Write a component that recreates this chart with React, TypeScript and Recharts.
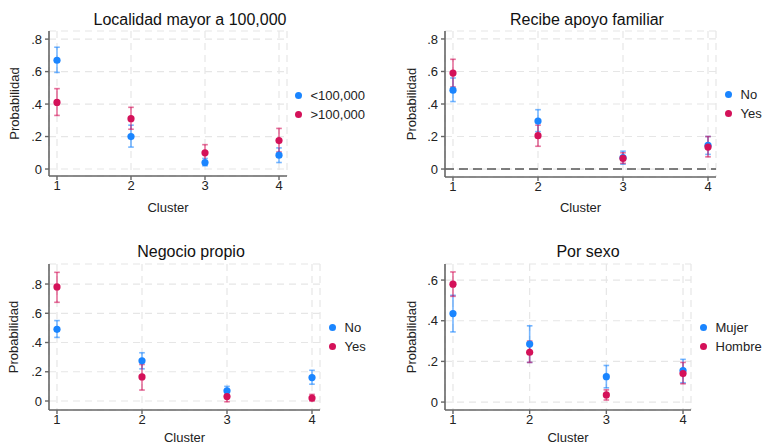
import React from "react";
import { CartesianGrid, ErrorBar, Legend, ReferenceLine, Scatter, ScatterChart, XAxis, YAxis } from "recharts";

const FONT = '"Liberation Sans", Arial, sans-serif';
const BLUE = "#1a85ff";
const RED = "#d41159";
const AXIS = "#666666";

const clusters = [1, 2, 3, 4];

// Localidad mayor a 100,000
const locNames = ["<100,000", ">100,000"];
const locMenor = [0.67, 0.2, 0.04, 0.085];
const locMenorLo = [0.595, 0.135, 0.02, 0.04];
const locMenorHi = [0.75, 0.27, 0.065, 0.13];
const locMayor = [0.41, 0.31, 0.1, 0.175];
const locMayorLo = [0.33, 0.245, 0.045, 0.105];
const locMayorHi = [0.495, 0.38, 0.15, 0.25];

// Recibe apoyo familiar
const apoyoNames = ["No", "Yes"];
const apoyoNo = [0.485, 0.295, 0.07, 0.145];
const apoyoNoLo = [0.415, 0.23, 0.03, 0.09];
const apoyoNoHi = [0.56, 0.365, 0.11, 0.2];
const apoyoSi = [0.59, 0.205, 0.065, 0.135];
const apoyoSiLo = [0.505, 0.14, 0.035, 0.075];
const apoyoSiHi = [0.675, 0.27, 0.1, 0.2];

// Negocio propio
const negocioNames = ["No", "Yes"];
const negocioNo = [0.49, 0.275, 0.07, 0.16];
const negocioNoLo = [0.435, 0.22, 0.045, 0.115];
const negocioNoHi = [0.55, 0.33, 0.1, 0.21];
const negocioSi = [0.78, 0.165, 0.03, 0.02];
const negocioSiLo = [0.675, 0.075, -0.005, 0.0];
const negocioSiHi = [0.88, 0.25, 0.06, 0.045];

// Por sexo
const sexoNames = ["Mujer", "Hombre"];
const mujer = [0.435, 0.285, 0.125, 0.155];
const mujerLo = [0.345, 0.195, 0.07, 0.095];
const mujerHi = [0.525, 0.375, 0.18, 0.21];
const hombre = [0.58, 0.245, 0.035, 0.14];
const hombreLo = [0.52, 0.195, 0.01, 0.09];
const hombreHi = [0.64, 0.3, 0.06, 0.195];

const ticks8 = [0, 0.2, 0.4, 0.6, 0.8];
const ticks6 = [0, 0.2, 0.4, 0.6];

function rows(mean: number[], lo: number[], hi: number[]) {
  return clusters.map((c, i) => ({ cluster: c, p: mean[i], err: [mean[i] - lo[i], hi[i] - mean[i]] }));
}

const fmt = (v: number) => (v === 0 ? "0" : String(v).replace(/^0/, ""));

const dot = (color: string) => (props: any) => <circle cx={props.cx} cy={props.cy} r={3.6} fill={color} />;

// legend keeps series order (recharts sorts by name otherwise)
const legendBox = (names: string[]) => () => (
  <div style={{ fontFamily: FONT, fontSize: 13, color: "#222", whiteSpace: "nowrap" }}>
    {names.map((n, i) => (
      <div key={n} style={{ display: "flex", alignItems: "center", height: 19 }}>
        <span style={{ display: "inline-block", width: 7, height: 7, borderRadius: "50%", background: i === 0 ? BLUE : RED, marginRight: 9 }} />
        {n}
      </div>
    ))}
  </div>
);

type PanelProps = {
  left: number; top: number;
  plotL: number; plotR: number; plotT: number; plotB: number;
  xDomain: [number, number]; yDomain: [number, number]; yTicks: number[];
  title: string; titleX: number; titleBase: number;
  legendX: number; legendY: number;
  names: string[]; a: any[]; b: any[]; zero?: boolean; yLabelX: number; xLabelOff: number;
};

function Panel(p: PanelProps) {
  const width = 381;
  const height = p.plotB - p.top + 40;
  return (
    <>
      <div style={{ position: "absolute", left: p.titleX - 150, top: p.titleBase - 13.5, width: 300, textAlign: "center", fontFamily: FONT, fontSize: 16, lineHeight: "16px", color: "#111" }}>
        {p.title}
      </div>
      <div style={{ position: "absolute", left: p.left, top: p.top }}>
        <ScatterChart width={width} height={height} margin={{ top: p.plotT - p.top, right: p.left + width - p.plotR, bottom: 0, left: 0 }}>
          <CartesianGrid stroke="#e6e6e6" strokeDasharray="7 5" strokeWidth={1.2} />
          <XAxis type="number" dataKey="cluster" domain={p.xDomain} ticks={clusters} allowDataOverflow height={40}
            tick={{ fill: "#222", fontSize: 13, fontFamily: FONT }} tickSize={4} tickMargin={1}
            axisLine={{ stroke: AXIS, strokeWidth: 1.6 }} tickLine={{ stroke: AXIS, strokeWidth: 1.4 }}
            label={{ value: "Cluster", position: "insideBottom", offset: p.xLabelOff, fill: "#222", fontSize: 13, fontFamily: FONT }} />
          <YAxis type="number" dataKey="p" domain={p.yDomain} ticks={p.yTicks} allowDataOverflow width={p.plotL - p.left}
            tickFormatter={fmt} tick={{ fill: "#222", fontSize: 13, fontFamily: FONT }} tickSize={4} tickMargin={3}
            axisLine={{ stroke: AXIS, strokeWidth: 1.6 }} tickLine={{ stroke: AXIS, strokeWidth: 1.4 }}
            label={{ value: "Probabilidad", angle: -90, position: "insideLeft", offset: p.yLabelX, fill: "#222", fontSize: 13, fontFamily: FONT, style: { textAnchor: "middle" } }} />
          {p.zero && <ReferenceLine y={0} stroke="#555" strokeWidth={1.6} strokeDasharray="9 5" />}
          <Legend layout="vertical" align="center" verticalAlign="middle" content={legendBox(p.names)}
            wrapperStyle={{ left: p.legendX - 3.5 - p.left, top: p.legendY - 9.5 - p.top }} />
          <Scatter name={p.names[0]} data={p.a} fill={BLUE} shape={dot(BLUE)} isAnimationActive={false}>
            <ErrorBar dataKey="err" direction="y" width={2.8} stroke={BLUE} strokeWidth={1.6} strokeOpacity={0.6} isAnimationActive={false} />
          </Scatter>
          <Scatter name={p.names[1]} data={p.b} fill={RED} shape={dot(RED)} isAnimationActive={false}>
            <ErrorBar dataKey="err" direction="y" width={2.8} stroke={RED} strokeWidth={1.6} strokeOpacity={0.6} isAnimationActive={false} />
          </Scatter>
        </ScatterChart>
      </div>
    </>
  );
}

export default function App() {
  return (
    <div style={{ position: "absolute", left: 0, top: 0, width: 762, height: 445, overflow: "hidden", background: "#fff" }}>
      <Panel left={0} top={0} plotL={49} plotR={287} plotT={31} plotB={176}
        xDomain={[0.892, 4.108]} yDomain={[-0.043, 0.85]} yTicks={ticks8}
        title="Localidad mayor a 100,000" titleX={190} titleBase={25} legendX={298} legendY={95}
        names={locNames} a={rows(locMenor, locMenorLo, locMenorHi)} b={rows(locMayor, locMayorLo, locMayorHi)} yLabelX={14} xLabelOff={4} />
      <Panel left={381} top={0} plotL={445} plotR={716} plotT={31} plotB={177}
        xDomain={[0.906, 4.094]} yDomain={[-0.049, 0.849]} yTicks={ticks8}
        title="Recibe apoyo familiar" titleX={587} titleBase={25} legendX={728} legendY={94}
        names={apoyoNames} a={rows(apoyoNo, apoyoNoLo, apoyoNoHi)} b={rows(apoyoSi, apoyoSiLo, apoyoSiHi)} zero yLabelX={30} xLabelOff={5} />
      <Panel left={0} top={222} plotL={49} plotR={320} plotT={264} plotB={410}
        xDomain={[0.906, 4.094]} yDomain={[-0.0615, 0.937]} yTicks={ticks8}
        title="Negocio propio" titleX={191} titleBase={257} legendX={332} legendY={327}
        names={negocioNames} a={rows(negocioNo, negocioNoLo, negocioNoHi)} b={rows(negocioSi, negocioSiLo, negocioSiHi)} yLabelX={13} xLabelOff={8} />
      <Panel left={381} top={222} plotL={445} plotR={691} plotT={264} plotB={410}
        xDomain={[0.896, 4.104]} yDomain={[-0.039, 0.679]} yTicks={ticks6}
        title="Por sexo" titleX={588} titleBase={257} legendX={703} legendY={327}
        names={sexoNames} a={rows(mujer, mujerLo, mujerHi)} b={rows(hombre, hombreLo, hombreHi)} yLabelX={30} xLabelOff={8} />
    </div>
  );
}
